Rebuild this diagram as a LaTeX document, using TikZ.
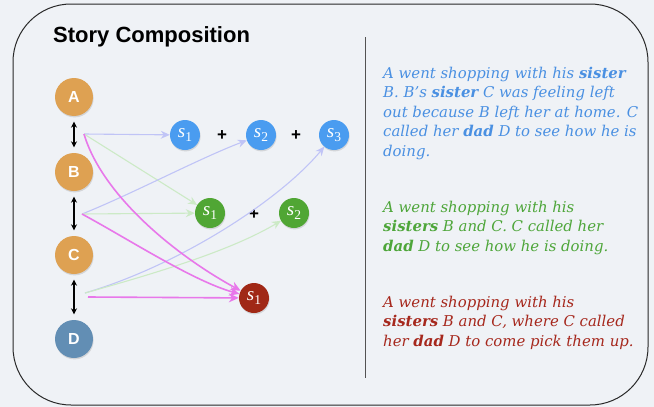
\documentclass[tikz,border=0pt]{standalone}
\usepackage{fontspec}
\setmainfont{DejaVu Serif}
\newfontfamily\headfont{Liberation Sans}
\newfontfamily\timesf{Liberation Serif}
\usetikzlibrary{arrows.meta,shadows}
\definecolor{bgc}{RGB}{239,242,246}
\definecolor{framec}{RGB}{40,40,40}
\definecolor{orng}{RGB}{222,161,82}
\definecolor{dblue}{RGB}{98,142,180}
\definecolor{sblue}{RGB}{74,156,240}
\definecolor{sgreen}{RGB}{80,166,52}
\definecolor{sred}{RGB}{160,40,22}
\definecolor{tblue}{RGB}{74,144,226}
\definecolor{tgreen}{RGB}{78,166,58}
\definecolor{tred}{RGB}{166,40,29}
\definecolor{lav}{RGB}{192,196,246}
\definecolor{lgreen}{RGB}{204,234,198}
\definecolor{mag}{RGB}{232,120,234}
\newcommand{\sidx}[1]{{\timesf\itshape\fontsize{19}{19}\selectfont s\kern0.3pt\raisebox{-3.5pt}{\upshape\fontsize{13.5}{13.5}\selectfont #1}}}
\tikzset{
  person/.style={circle,minimum size=38pt,inner sep=0pt,text=white,
    font=\headfont\bfseries\fontsize{16}{16}\selectfont,
    drop shadow={opacity=0.25,shadow xshift=0.6pt,shadow yshift=-1.4pt}},
  sent/.style={circle,minimum size=30pt,inner sep=0pt,text=white,
    drop shadow={opacity=0.25,shadow xshift=0.6pt,shadow yshift=-1.4pt}},
  plus/.style={font=\headfont\bfseries\fontsize{17}{17}\selectfont,inner sep=0pt},
  dbl/.style={{Stealth[length=6pt,width=6pt]}-{Stealth[length=6pt,width=6pt]},
    line width=1.5pt,shorten <=5.5pt,shorten >=5.5pt},
  lavarr/.style={draw=lav,line width=1.1pt,-{Stealth[length=9pt,width=8pt]}},
  grarr/.style={draw=lgreen,line width=1.1pt,-{Stealth[length=9pt,width=8pt]}},
  magarr/.style={draw=mag,line width=1.6pt,-{Stealth[length=10pt,width=9pt]}},
  txt/.style={anchor=base west,inner sep=0pt,font=\itshape\fontsize{14.9}{18}\selectfont},
}
\begin{document}
\begin{tikzpicture}[x=1pt,y=-1pt]
\fill[bgc] (0,0) rectangle (654,407);
\useasboundingbox (0,0) rectangle (654,407);
\draw[framec,line width=1pt,rounded corners=58pt] (13,4) rectangle (648,405);
\draw[framec!80,line width=1pt] (365,37) -- (365,378);

\node[anchor=base west,inner sep=0pt,font=\headfont\bfseries\fontsize{22}{22}\selectfont] (title) at (53,42) {Story Composition};

\node[person,fill=orng] (A) at (74,97) {A};
\node[person,fill=orng] (B) at (74,172) {B};
\node[person,fill=orng] (C) at (74,255) {C};
\node[person,fill=dblue] (D) at (74,339) {D};
\draw[dbl] (A) -- (B);
\draw[dbl] (B) -- (C);
\draw[dbl] (C) -- (D);

\node[sent,fill=sblue] (b1) at (185,135) {\sidx{1}};
\node[sent,fill=sblue] (b2) at (261,135) {\sidx{2}};
\node[sent,fill=sblue] (b3) at (334,135) {\sidx{3}};
\node[plus] (p1) at (222,136) {+};
\node[plus] (p2) at (296,136) {+};
\node[sent,fill=sgreen] (g1) at (210,213) {\sidx{1}};
\node[sent,fill=sgreen] (g2) at (294,213) {\sidx{2}};
\node[plus] (p3) at (254,215) {+};
\node[sent,fill=sred] (r1) at (254,298) {\sidx{1}};

\coordinate (ab) at (84,134);
\coordinate (bc) at (82,214);
\coordinate (cd) at (85,293);
\coordinate (cd2) at (88,297);

% light arrows
\draw[lavarr] (ab) -- (b1);
\draw[grarr] (ab) -- (g1);
\draw[lavarr] (bc) .. controls (130,195) and (200,158) .. (b2);
\draw[grarr] (bc) -- (g1);
\draw[lavarr] (cd) .. controls (180,265) and (280,200) .. (b3);
\draw[grarr] (cd) .. controls (160,272) and (232,250) .. (g2);
% magenta arrows
\draw[magarr] (ab) .. controls (102,195) and (175,255) .. (r1);
\draw[magarr] (bc) .. controls (130,240) and (193,281) .. (r1);
\draw[magarr] (cd2) -- (r1);

% texts
\begin{scope}[every node/.style={txt}]
\node[text=tblue] (t1) at (383,78) {A went shopping with his \textbf{sister}};
\node[text=tblue] (t2) at (383,97.5) {B. B's \textbf{sister} C was feeling left};
\node[text=tblue] (t3) at (383,117) {out because B left her at home. C};
\node[text=tblue] (t4) at (383,136.5) {called her \textbf{dad} D to see how he is};
\node[text=tblue] (t5) at (383,156) {doing.};
\node[text=tgreen] (u1) at (383,212) {A went shopping with his};
\node[text=tgreen] (u2) at (383,231.5) {\textbf{sisters} B and C. C called her};
\node[text=tgreen] (u3) at (383,251) {\textbf{dad} D to see how he is doing.};
\node[text=tred] (v1) at (383,307) {A went shopping with his};
\node[text=tred] (v2) at (383,326.5) {\textbf{sisters} B and C, where C called};
\node[text=tred] (v3) at (383,346) {her \textbf{dad} D to come pick them up.};
\end{scope}
\end{tikzpicture}
\end{document}
